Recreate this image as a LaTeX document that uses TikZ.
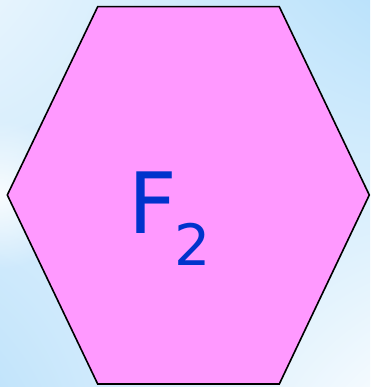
\documentclass[tikz,border=0pt]{standalone}
\usepackage{fontspec}
\setmainfont{DejaVu Sans}
\usetikzlibrary{shadings,fadings}
\definecolor{hexfill}{HTML}{FF99FF}
\definecolor{textblue}{HTML}{0033CC}
\definecolor{bgUL}{HTML}{E6F4FD}
\definecolor{bgUR}{HTML}{BBE2FB}
\definecolor{bgLL}{HTML}{C2E4FB}
\definecolor{bgLR}{HTML}{F4FAFE}
\tikzfading[name=softglow, inner color=transparent!0, outer color=transparent!100]
\tikzset{
  hexstyle/.style={draw=black, fill=hexfill, line width=1.6pt, line join=miter},
  labelstyle/.style={inner sep=0pt, text=textblue, anchor=base west}
}
\begin{document}
\begin{tikzpicture}[x=1pt,y=-1pt]
\useasboundingbox (0,0) rectangle (370,387);
\shade[upper left=bgUL, upper right=bgUR, lower left=bgLL, lower right=bgLR] (0,0) rectangle (370,387);
\fill[white, path fading=softglow, fit fading=true, opacity=0.85] (0,195) circle (75);
\coordinate (v1) at (97.7,6.7);
\coordinate (v2) at (279.3,6.7);
\coordinate (v3) at (369.3,195);
\coordinate (v4) at (279.3,384);
\coordinate (v5) at (97.7,384);
\coordinate (v6) at (7.3,195);
\draw[hexstyle] (v1) -- (v2) -- (v3) -- (v4) -- (v5) -- (v6) -- cycle;
\node[labelstyle] (lbl) at (128.4,233.3) {\fontsize{84.6}{90}\selectfont F\hspace{-2.5pt}\raisebox{-32pt}{\fontsize{57}{60}\selectfont 2}};
\end{tikzpicture}
\end{document}
